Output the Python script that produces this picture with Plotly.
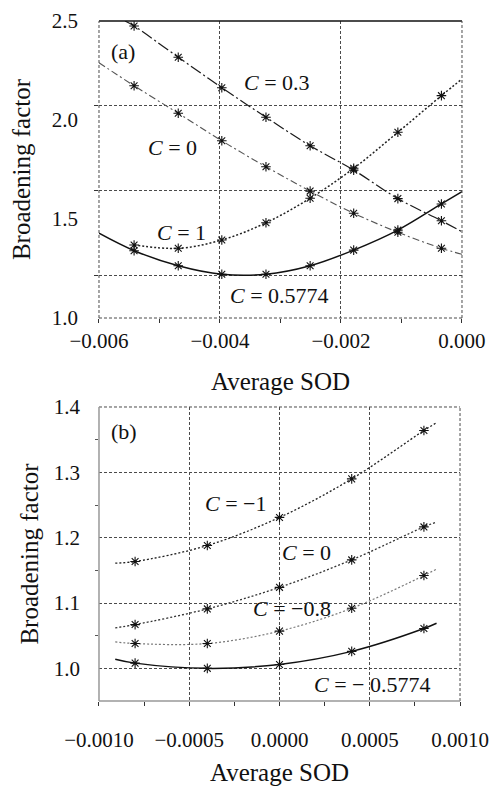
import plotly.graph_objects as go

# ---------------- panel (a) ----------------
a_sod = [-0.00542, -0.00469, -0.00397, -0.00324, -0.00251, -0.00179, -0.00106, -0.00034]
a_c03 = [2.475, 2.317, 2.163, 2.014, 1.870, 1.747, 1.603, 1.491]
a_c0 = [2.173, 2.034, 1.895, 1.764, 1.641, 1.529, 1.433, 1.352]
a_c1 = [1.369, 1.352, 1.394, 1.481, 1.605, 1.756, 1.938, 2.123]
a_c5774 = [1.340, 1.264, 1.221, 1.221, 1.264, 1.343, 1.444, 1.576]

# fitted curves: start / end values beyond the sampled points
a_c03_fit_x = [-0.00557] + a_sod + [0.0]
a_c03_fit_y = [2.500] + a_c03 + [1.436]
a_c0_fit_x = [-0.006] + a_sod + [0.0]
a_c0_fit_y = [2.289] + a_c0 + [1.322]
a_c1_fit_x = a_sod + [0.0]
a_c1_fit_y = a_c1 + [2.207]
a_c5774_fit_x = [-0.006] + a_sod + [0.0]
a_c5774_fit_y = [1.428] + a_c5774 + [1.638]

a_xticks = [-0.006, -0.004, -0.002, 0.0]
a_xminor = [-0.005, -0.003, -0.001]
a_yticks = [1.0, 1.5, 2.0, 2.5]
a_ygrid = [1.217, 1.646, 2.071]

# ---------------- panel (b) ----------------
b_sod = [-0.0008, -0.0004, 0.0, 0.0004, 0.0008]
b_cm1 = [1.1635, 1.188, 1.231, 1.290, 1.364]
b_c0 = [1.067, 1.091, 1.124, 1.166, 1.2165]
b_cm08 = [1.038, 1.038, 1.057, 1.092, 1.142]
b_cm5774 = [1.008, 1.000, 1.006, 1.026, 1.061]

b_fit_x = [-0.00091] + b_sod + [0.00087]
b_cm1_fit_y = [1.161] + b_cm1 + [1.376]
b_c0_fit_y = [1.062] + b_c0 + [1.224]
b_cm08_fit_y = [1.0405] + b_cm08 + [1.152]
b_cm5774_fit_y = [1.014] + b_cm5774 + [1.069]

b_xticks = [-0.001, -0.0005, 0.0, 0.0005, 0.001]
b_xminor = [-0.00075, -0.00025, 0.00025, 0.00075]
b_yticks = [1.0, 1.1, 1.2, 1.3, 1.4]
b_yminor = [1.05, 1.15, 1.25, 1.35]

FONT = "Liberation Serif"
GRID = "#4a4a4a"
GDASH = "3px,2px"

fig = go.Figure()


def add_curve(x, y, xa, ya, dash, color, width):
    fig.add_trace(go.Scatter(
        x=x, y=y, mode="lines", xaxis=xa, yaxis=ya,
        line=dict(color=color, width=width, dash=dash, shape="spline", smoothing=1.0),
        showlegend=False, hoverinfo="skip"))


def add_points(x, y, xa, ya):
    fig.add_trace(go.Scatter(
        x=x, y=y, mode="markers", xaxis=xa, yaxis=ya,
        marker=dict(symbol="asterisk-open", size=8, color="#111",
                    line=dict(color="#111", width=1.1)),
        showlegend=False))


# panel (a) curves
add_curve(a_c03_fit_x, a_c03_fit_y, "x", "y", "12px,3px,2px,3px", "#1a1a1a", 1.2)
add_curve(a_c0_fit_x, a_c0_fit_y, "x", "y", "7px,3px,2px,3px", "#555", 1.1)
add_curve(a_c1_fit_x, a_c1_fit_y, "x", "y", "2px,2px", "#222", 1.5)
add_curve(a_c5774_fit_x, a_c5774_fit_y, "x", "y", "solid", "#111", 1.5)
for ys in (a_c03, a_c0, a_c1, a_c5774):
    add_points(a_sod, ys, "x", "y")

# panel (b) curves
add_curve(b_fit_x, b_cm1_fit_y, "x2", "y2", "2px,2px", "#222", 1.3)
add_curve(b_fit_x, b_c0_fit_y, "x2", "y2", "2px,2px", "#333", 1.3)
add_curve(b_fit_x, b_cm08_fit_y, "x2", "y2", "2px,2px", "#777", 1.2)
add_curve(b_fit_x, b_cm5774_fit_y, "x2", "y2", "solid", "#111", 1.5)
for ys in (b_cm1, b_c0, b_cm08, b_cm5774):
    add_points(b_sod, ys, "x2", "y2")

tickfont = dict(family=FONT, size=21, color="#111")
titlefont = dict(family=FONT, size=25, color="#111")

common_x = dict(
    showgrid=True, gridcolor=GRID, griddash=GDASH, gridwidth=1,
    ticks="outside", ticklen=4, tickcolor="#333", zeroline=False,
    tickfont=tickfont, showline=False, automargin=False,
)

fig.update_layout(
    width=493, height=786,
    margin=dict(l=0, r=0, t=0, b=0),
    paper_bgcolor="white", plot_bgcolor="white",
    font=dict(family=FONT, color="#111"),
    xaxis=dict(
        domain=[0.2008, 0.9371], anchor="y", range=[-0.006, 0.0],
        tickvals=a_xticks, tickformat=".3f", ticklabelstandoff=0,
        minor=dict(tickvals=a_xminor, ticks="outside", ticklen=4,
                   tickcolor="#333", showgrid=False),
        title=dict(text="Average SOD", font=titlefont, standoff=20),
        **common_x,
    ),
    yaxis=dict(
        domain=[0.5954, 0.9733], anchor="x", range=[1.0, 2.5],
        tickvals=a_yticks, tickformat=".1f", ticks="", showgrid=False,
        zeroline=False, tickfont=tickfont, automargin=False, ticklabelstandoff=20,
        minor=dict(tickvals=a_ygrid, showgrid=True, gridcolor=GRID,
                   griddash=GDASH, gridwidth=1, ticks="outside", ticklen=4,
                   tickcolor="#333"),
        title=dict(text="Broadening factor", font=titlefont, standoff=13),
    ),
    xaxis2=dict(
        domain=[0.2008, 0.9331], anchor="y2", range=[-0.001, 0.001],
        tickvals=b_xticks, tickformat=".4f", ticklabelstandoff=16,
        minor=dict(tickvals=b_xminor, ticks="outside", ticklen=4,
                   tickcolor="#333", showgrid=False),
        title=dict(text="Average SOD", font=titlefont, standoff=26),
        **common_x,
    ),
    yaxis2=dict(
        domain=[0.1081, 0.4822], anchor="x2", range=[0.95, 1.4],
        tickvals=b_yticks, tickformat=".1f", ticks="", showgrid=True,
        gridcolor=GRID, griddash=GDASH, gridwidth=1,
        zeroline=False, tickfont=tickfont, automargin=False, ticklabelstandoff=18,
        minor=dict(tickvals=b_yminor, ticks="outside", ticklen=3,
                   tickcolor="#555", showgrid=False),
        title=dict(text="Broadening factor", font=titlefont, standoff=7),
    ),
)

# frame edges of panel (a): solid top, dashed sides and bottom
fig.add_shape(type="line", xref="x domain", yref="y domain",
              x0=0, x1=1, y0=1, y1=1, line=dict(color="#111", width=1.5))
for x0, y0, x1, y1 in [(0, 0, 1, 0), (0, 0, 0, 1), (1, 0, 1, 1)]:
    fig.add_shape(type="line", xref="x domain", yref="y domain",
                  x0=x0, x1=x1, y0=y0, y1=y1, line=dict(color=GRID, width=1, dash=GDASH))
# frame edges of panel (b): dashed top and right, light bottom and left
for x0, y0, x1, y1 in [(0, 1, 1, 1), (1, 0, 1, 1)]:
    fig.add_shape(type="line", xref="x2 domain", yref="y2 domain",
                  x0=x0, x1=x1, y0=y0, y1=y1, line=dict(color=GRID, width=1, dash=GDASH))
fig.add_shape(type="line", xref="x2 domain", yref="y2 domain",
              x0=0, x1=1, y0=0, y1=0, line=dict(color="#999", width=1.5))
fig.add_shape(type="line", xref="x2 domain", yref="y2 domain",
              x0=0, x1=0, y0=0, y1=1, line=dict(color="#999", width=1.5))

labfont = dict(family=FONT, size=22, color="#111")
labels = [
    ("x", "y", -0.0056, 2.348, "(a)"),
    ("x", "y", -0.00306, 2.187, "<i>C</i> = 0.3"),
    ("x", "y", -0.00478, 1.859, "<i>C</i> = 0"),
    ("x", "y", -0.00463, 1.434, "<i>C</i> = 1"),
    ("x", "y", -0.00301, 1.116, "<i>C</i> = 0.5774"),
    ("x2", "y2", -0.00086, 1.363, "(b)"),
    ("x2", "y2", -0.00024, 1.253, "<i>C</i> = −1"),
    ("x2", "y2", 0.00015, 1.178, "<i>C</i> = 0"),
    ("x2", "y2", 0.000067, 1.092, "<i>C</i> = −0.8"),
    ("x2", "y2", 0.000514, 0.975, "<i>C</i> = − 0.5774"),
]
for xr, yr, x, y, t in labels:
    fig.add_annotation(xref=xr, yref=yr, x=x, y=y, text=t, showarrow=False,
                       font=labfont, xanchor="center", yanchor="middle")

fig.write_html("out.html")
